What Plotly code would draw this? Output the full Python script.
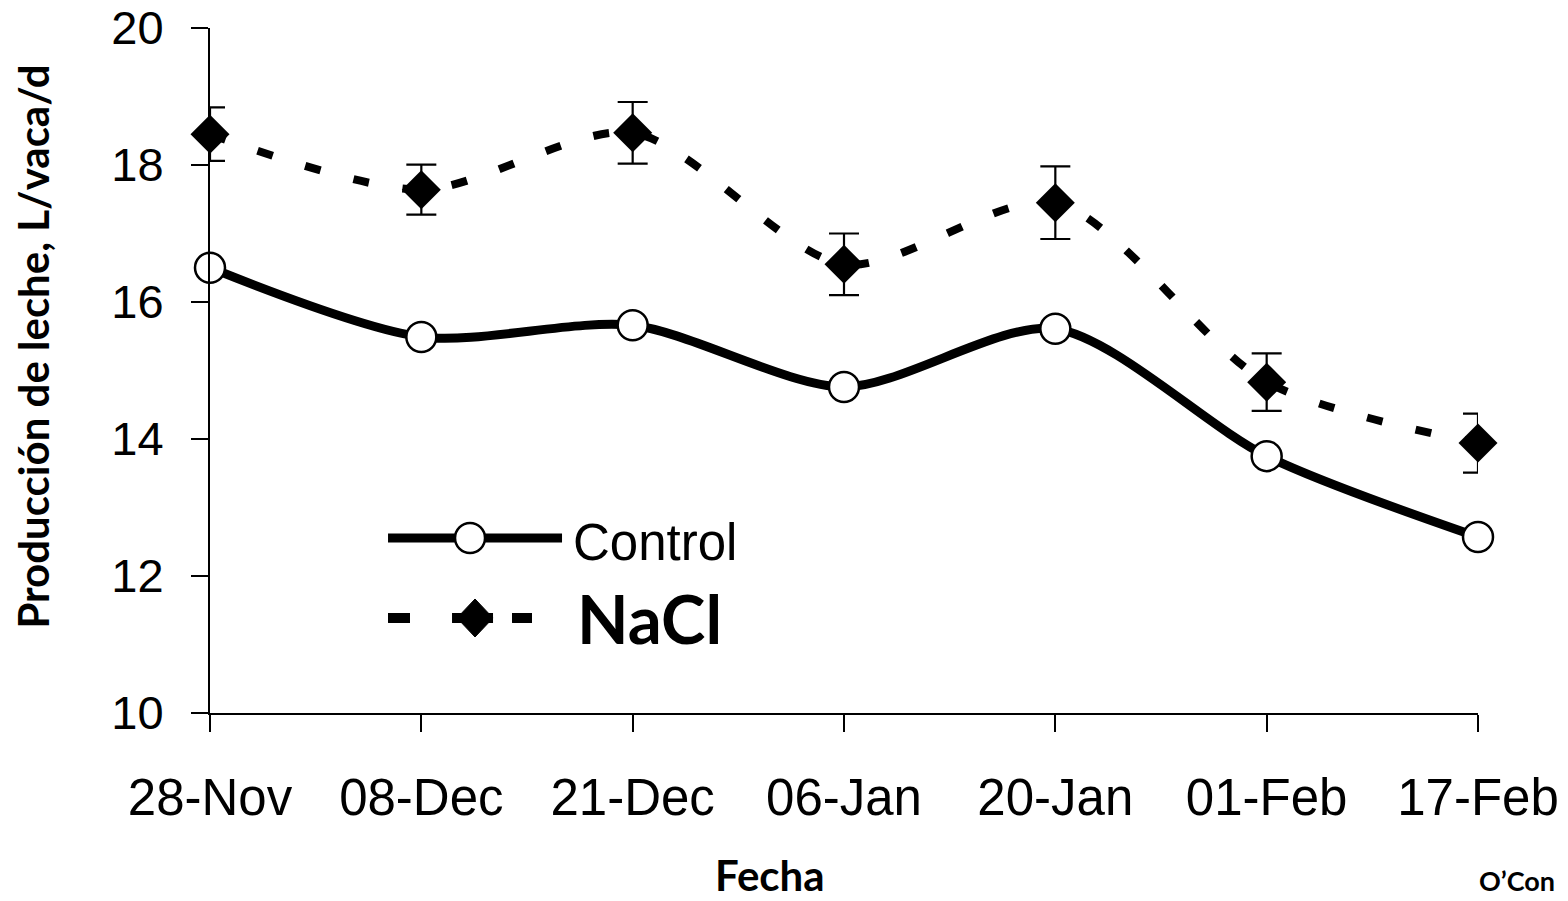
import plotly.graph_objects as go

fechas = ["28-Nov", "08-Dec", "21-Dec", "06-Jan", "20-Jan", "01-Feb", "17-Feb"]
control = [16.50, 15.49, 15.66, 14.76, 15.61, 13.75, 12.57]
nacl = [18.45, 17.64, 18.47, 16.55, 17.45, 14.83, 13.94]
nacl_err = [0.39, 0.365, 0.45, 0.45, 0.53, 0.42, 0.43]
y_ticks = [10, 12, 14, 16, 18, 20]

xpos = list(range(len(fechas)))

fig = go.Figure()
fig.add_trace(go.Scatter(
    x=xpos, y=nacl, mode="lines+markers", name="NaCl",
    line=dict(color="black", width=8, dash="16px,34px", shape="spline", smoothing=0.8),
    marker=dict(symbol="diamond", size=30, color="black"),
    error_y=dict(type="data", array=nacl_err, visible=True, color="black", thickness=2.2, width=15),
    cliponaxis=False, showlegend=False))
fig.add_trace(go.Scatter(
    x=xpos, y=control, mode="lines+markers", name="Control",
    line=dict(color="black", width=9, shape="spline", smoothing=0.8),
    marker=dict(symbol="circle", size=30, color="white", line=dict(color="black", width=2.5)),
    cliponaxis=False, showlegend=False))

# manual legend (pixel-sized shapes anchored in paper coords)
ly1, ly2 = 0.2555, 0.1387
lx = 0.1404
legend_shapes = [
    dict(type="line", xref="paper", yref="paper", xsizemode="pixel", xanchor=lx,
         x0=0, x1=174, y0=ly1, y1=ly1, line=dict(color="black", width=9)),
    dict(type="circle", xref="paper", yref="paper", xsizemode="pixel", ysizemode="pixel",
         xanchor=lx, yanchor=ly1, x0=67, x1=97, y0=-15, y1=15,
         fillcolor="white", line=dict(color="black", width=2.5)),
    dict(type="line", xref="paper", yref="paper", xsizemode="pixel", xanchor=lx,
         x0=0, x1=22, y0=ly2, y1=ly2, line=dict(color="black", width=10)),
    dict(type="line", xref="paper", yref="paper", xsizemode="pixel", xanchor=lx,
         x0=64, x1=105, y0=ly2, y1=ly2, line=dict(color="black", width=10)),
    dict(type="line", xref="paper", yref="paper", xsizemode="pixel", xanchor=lx,
         x0=124, x1=144, y0=ly2, y1=ly2, line=dict(color="black", width=10)),
    dict(type="path", xref="paper", yref="paper", xsizemode="pixel", ysizemode="pixel",
         xanchor=lx, yanchor=ly2, path="M 69 0 L 87 19 L 105 0 L 87 -19 Z",
         fillcolor="black", line=dict(color="black", width=1)),
]
for s in legend_shapes:
    fig.add_shape(**s)

fig.add_annotation(xref="paper", yref="paper", x=0.2850, y=ly1 - 0.006, xanchor="left", yanchor="middle",
                   text="Control", showarrow=False,
                   font=dict(family="Liberation Sans, Arial", size=51, color="black"))
fig.add_annotation(xref="paper", yref="paper", x=0.2880, y=ly2, xanchor="left", yanchor="middle",
                   text="<b>NaCl</b>", showarrow=False,
                   font=dict(family="Lato, Noto Sans", size=67, color="black"))

# axis titles
fig.add_annotation(xref="paper", yref="paper", x=-0.1403, y=0.535, xanchor="center", yanchor="middle",
                   text="<b>Producción de leche, L/vaca/d</b>", textangle=-90, showarrow=False,
                   font=dict(family="Lato, Noto Sans", size=42, color="black"))
fig.add_annotation(xref="paper", yref="paper", x=0.4416, y=-0.236, xanchor="center", yanchor="middle",
                   text="<b>Fecha</b>", showarrow=False,
                   font=dict(family="Lato, Noto Sans", size=42, color="black"))
fig.add_annotation(xref="paper", yref="paper", x=1.062, y=-0.245, xanchor="right", yanchor="middle",
                   text="<b>O’Con</b>", showarrow=False,
                   font=dict(family="Lato, Noto Sans", size=27, color="black"))

fig.update_layout(
    width=1568, height=901,
    margin=dict(l=210, r=90, t=28, b=188, autoexpand=False),
    plot_bgcolor="white", paper_bgcolor="white",
    font=dict(family="Liberation Sans, Arial", size=46, color="black"),
    xaxis=dict(range=[0, 6], tickvals=xpos, ticktext=fechas, showgrid=False, zeroline=False,
               showline=True, linecolor="black", linewidth=2, ticks="outside", ticklen=17,
               tickwidth=2, tickcolor="black", ticklabelstandoff=22, automargin=False,
               tickfont=dict(family="Liberation Sans, Arial", size=51, color="black")),
    yaxis=dict(range=[10, 20], tickvals=y_ticks, showgrid=False, zeroline=False,
               showline=True, linecolor="black", linewidth=2, ticks="outside", ticklen=17,
               tickwidth=2, tickcolor="black", ticklabelstandoff=18, automargin=False,
               tickfont=dict(family="Liberation Sans, Arial", size=47, color="black")),
)

fig.write_html("out.html")
